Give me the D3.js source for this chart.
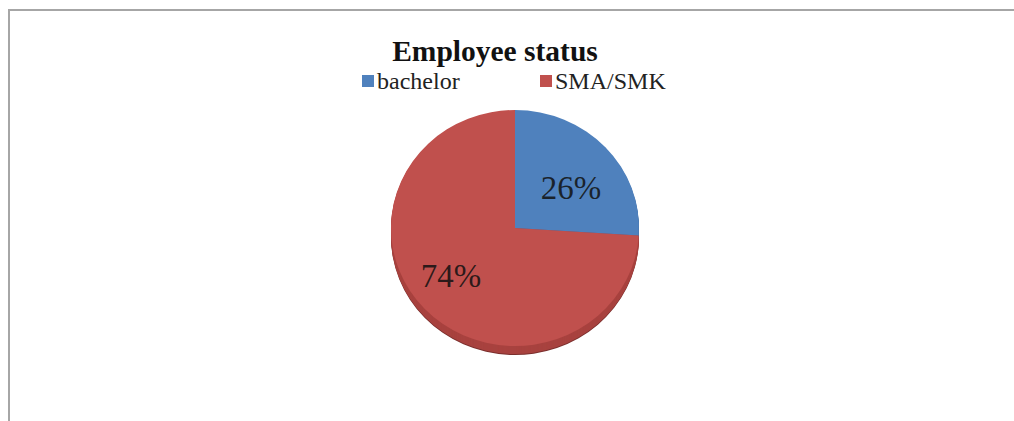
<!DOCTYPE html>
<html>
<head>
<meta charset="utf-8">
<script src="https://cdn.jsdelivr.net/npm/d3@7"></script>
<style>
  html, body { margin: 0; padding: 0; background: #ffffff; }
  svg { display: block; }
</style>
</head>
<body>
<svg id="chart" width="1014" height="421"></svg>
<script>
const title = "Employee status";
const categories = ["bachelor", "SMA/SMK"];
const values = [26, 74];
const labels = ["26%", "74%"];

const colors = ["#4F81BD", "#C0504D"];
const sideColors = ["#3d6699", "#a8423f"];

const W = 1014, H = 421;
const FONT = "Liberation Serif, Times New Roman, DejaVu Serif, serif";
const svg = d3.select("#chart");

// chart area border
svg.append("rect")
  .attr("x", 9).attr("y", 10)
  .attr("width", W + 20).attr("height", H + 20)
  .attr("fill", "#ffffff")
  .attr("stroke", "#a6a6a6")
  .attr("stroke-width", 2);

// title
svg.append("text")
  .attr("x", 495).attr("y", 61)
  .attr("text-anchor", "middle")
  .style("font-family", FONT)
  .attr("font-weight", "bold")
  .attr("font-size", 29.5)
  .attr("fill", "#111")
  .text(title);

// legend
const legendX = [362, 540];
const leg = svg.append("g").selectAll("g")
  .data(categories)
  .join("g")
  .attr("transform", (d, i) => `translate(${legendX[i]},0)`);
leg.append("rect")
  .attr("x", 0).attr("y", 75)
  .attr("width", 12).attr("height", 12)
  .attr("fill", (d, i) => colors[i]);
leg.append("text")
  .attr("x", 15).attr("y", 89)
  .style("font-family", FONT)
  .attr("font-size", 24)
  .attr("fill", "#222")
  .text(d => d);

// pie
const cx = 515, cy = 228, rx = 124, ry = 118, depth = 9;
const pieData = d3.pie().sort(null).value(d => d)(values);
const arc = d3.arc().innerRadius(0).outerRadius(rx);

const pg = svg.append("g");
// 3D side: stacked darker layers
const layers = d3.range(depth, 0, -1);
layers.forEach(k => {
  pg.append("g")
    .attr("transform", `translate(${cx},${cy + k}) scale(1,${ry / rx})`)
    .selectAll("path")
    .data(pieData)
    .join("path")
    .attr("d", arc)
    .attr("fill", (d, i) => k === depth ? "#7a2e2c" : sideColors[i]);
});

// top face
const face = pg.append("g")
  .attr("transform", `translate(${cx},${cy}) scale(1,${ry / rx})`);
face.selectAll("path")
  .data(pieData)
  .join("path")
  .attr("d", arc)
  .attr("fill", (d, i) => colors[i]);

// data labels
const labelPos = [[571, 199], [451, 287]];
svg.append("g").selectAll("text")
  .data(labels)
  .join("text")
  .attr("x", (d, i) => labelPos[i][0])
  .attr("y", (d, i) => labelPos[i][1])
  .attr("text-anchor", "middle")
  .style("font-family", FONT)
  .attr("font-size", 33)
  .attr("fill", "#111")
  .attr("fill-opacity", 0.85)
  .text(d => d);
</script>
</body>
</html>
